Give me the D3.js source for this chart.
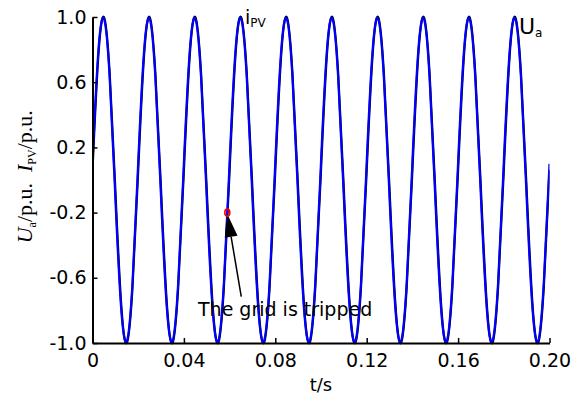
<!DOCTYPE html>
<html>
<head>
<meta charset="utf-8">
<script src="https://cdn.jsdelivr.net/npm/d3@7"></script>
<style>
  body { margin: 0; background: #fff; }
  svg { display: block; }
</style>
</head>
<body>
<div id="chart"></div>
<script>
  let w = 580,
      h = 403;

  // sample step of the recorded waveforms (s)
  let step = 0.0025;

  // U_a, grid voltage (p.u.), read every 2.5 ms
  let uaValues = [
    0.11, 0.78, 0.99, 0.63, -0.11, -0.78, -0.99, -0.63,
    0.11, 0.78, 0.99, 0.63, -0.11, -0.78, -0.99, -0.63,
    0.11, 0.78, 0.99, 0.63, -0.11, -0.78, -0.99, -0.63,
    0.11, 0.78, 0.99, 0.63, -0.11, -0.78, -0.99, -0.63,
    0.11, 0.78, 0.99, 0.63, -0.11, -0.78, -0.99, -0.63,
    0.11, 0.78, 0.99, 0.63, -0.11, -0.78, -0.99, -0.63,
    0.11, 0.78, 0.99, 0.63, -0.11, -0.78, -0.99, -0.63,
    0.11, 0.78, 0.99, 0.63, -0.11, -0.78, -0.99, -0.63,
    0.11, 0.78, 0.99, 0.63, -0.11, -0.78, -0.99, -0.63,
    0.11, 0.78, 0.99, 0.63, -0.11, -0.78, -0.99, -0.63,
    0.10
  ];

  // i_PV, inverter current (p.u.), read every 2.5 ms
  let ipvValues = [
    0.06, 0.75, 1.00, 0.66, -0.06, -0.75, -1.00, -0.66,
    0.06, 0.75, 1.00, 0.66, -0.06, -0.75, -1.00, -0.66,
    0.06, 0.75, 1.00, 0.66, -0.06, -0.75, -1.00, -0.66,
    0.06, 0.75, 1.00, 0.66, -0.06, -0.75, -1.00, -0.66,
    0.06, 0.75, 1.00, 0.66, -0.06, -0.75, -1.00, -0.66,
    0.06, 0.75, 1.00, 0.66, -0.06, -0.75, -1.00, -0.66,
    0.06, 0.75, 1.00, 0.66, -0.06, -0.75, -1.00, -0.66,
    0.06, 0.75, 1.00, 0.66, -0.06, -0.75, -1.00, -0.66,
    0.06, 0.75, 1.00, 0.66, -0.06, -0.75, -1.00, -0.66,
    0.06, 0.75, 1.00, 0.66, -0.06, -0.75, -1.00, -0.66,
    0.06
  ];

  let xTicks = [0, 0.04, 0.08, 0.12, 0.16, 0.20];
  let xTickLabels = ["0", "0.04", "0.08", "0.12", "0.16", "0.20"];
  let yTicks = [1.0, 0.6, 0.2, -0.2, -0.6, -1.0];
  let yTickLabels = ["1.0", "0.6", "0.2", "-0.2", "-0.6", "-1.0"];

  // grid trip instant
  let tripTime = 0.0590,
      tripValue = -0.2;

  let sansFont = "'DejaVu Sans', Verdana, sans-serif";
  let serifFont = "'Liberation Serif', 'Times New Roman', serif";

  let x = d3.scaleLinear().domain([0, 0.2]).range([92.5, 549.5]);
  let y = d3.scaleLinear().domain([-1, 1]).range([343, 17]);

  let svg = d3.select("#chart")
              .append("svg")
              .attr("width", w)
              .attr("height", h);

  svg.append("defs")
     .append("clipPath")
     .attr("id", "plot-clip")
     .append("rect")
     .attr("x", x(0))
     .attr("y", y(1) - 2)
     .attr("width", x(0.2) - x(0))
     .attr("height", y(-1) - y(1) + 4);

  let line = d3.line()
               .x((d, i) => x(i * step))
               .y(d => y(d))
               .curve(d3.curveNatural);

  let plot = svg.append("g").attr("clip-path", "url(#plot-clip)");

  // current first, voltage drawn on top of it
  plot.append("path")
      .attr("d", line(ipvValues))
      .attr("fill", "none")
      .attr("stroke", "#000")
      .attr("stroke-width", 2.2);

  plot.append("path")
      .attr("d", line(uaValues))
      .attr("fill", "none")
      .attr("stroke", "#0000ff")
      .attr("stroke-width", 2.2);

  // axes
  let xAxis = d3.axisBottom(x)
                .tickValues(xTicks)
                .tickFormat((d, i) => xTickLabels[i])
                .tickSizeInner(-5)
                .tickSizeOuter(0)
                .tickPadding(11);

  let yAxis = d3.axisLeft(y)
                .tickValues(yTicks)
                .tickFormat((d, i) => yTickLabels[i])
                .tickSizeInner(-5)
                .tickSizeOuter(0)
                .tickPadding(6);

  let gx = svg.append("g")
              .attr("transform", `translate(0, ${y(-1)})`)
              .call(xAxis);

  let gy = svg.append("g")
              .attr("transform", `translate(${x(0)}, 0)`)
              .call(yAxis);

  [gx, gy].forEach(g => {
    g.attr("font-family", sansFont).attr("font-size", 19);
    g.select(".domain").attr("stroke", "#000").attr("stroke-width", 2);
    g.selectAll(".tick line").attr("stroke", "#000").attr("stroke-width", 1.5);
    g.selectAll(".tick text").attr("fill", "#000");
  });

  gx.selectAll(".tick text").attr("dy", "0.71em");

  // x title
  svg.append("text")
     .attr("x", x(0.1))
     .attr("y", 391)
     .attr("text-anchor", "middle")
     .attr("font-family", sansFont)
     .attr("font-size", 18)
     .text("t/s");

  // y title, rotated
  let yTitle = svg.append("text")
                  .attr("transform", `translate(32, ${y(0.02)}) rotate(-90)`)
                  .attr("text-anchor", "middle")
                  .attr("font-family", serifFont)
                  .attr("font-size", 22);

  yTitle.append("tspan").attr("font-style", "italic").text("U");
  yTitle.append("tspan").attr("font-size", 12).attr("dy", 4).text("a");
  yTitle.append("tspan").attr("dy", -4).text("/p.u.\u00a0\u00a0");
  yTitle.append("tspan").attr("font-style", "italic").text("I");
  yTitle.append("tspan").attr("font-size", 12).attr("dy", 4).text("PV");
  yTitle.append("tspan").attr("dy", -4).text("/p.u.");

  // series labels
  let ipvLabel = svg.append("text")
                    .attr("x", 245)
                    .attr("y", 24)
                    .attr("font-family", sansFont)
                    .attr("font-size", 19);
  ipvLabel.append("tspan").text("i");
  ipvLabel.append("tspan").attr("font-size", 12).attr("dy", 3).text("PV");

  let uaLabel = svg.append("text")
                   .attr("x", 519)
                   .attr("y", 34)
                   .attr("font-family", sansFont)
                   .attr("font-size", 22);
  uaLabel.append("tspan").text("U");
  uaLabel.append("tspan").attr("font-size", 12).attr("dy", 3).text("a");

  // trip annotation: arrow from text to the point
  let tip = [x(tripTime), y(tripValue) + 1.5];
  let tail = [x(0.0651), y(-0.716)];
  let dx = tip[0] - tail[0],
      dy = tip[1] - tail[1],
      len = Math.sqrt(dx * dx + dy * dy);
  let ux = dx / len,
      uy = dy / len;
  let headLen = 23,
      headHalf = 6.5;
  let base = [tip[0] - ux * headLen, tip[1] - uy * headLen];

  svg.append("line")
     .attr("x1", tail[0])
     .attr("y1", tail[1])
     .attr("x2", base[0])
     .attr("y2", base[1])
     .attr("stroke", "#000")
     .attr("stroke-width", 1.5);

  svg.append("path")
     .attr("d", `M${tip[0]},${tip[1]}L${base[0] - uy * headHalf},${base[1] + ux * headHalf}L${base[0] + uy * headHalf},${base[1] - ux * headHalf}Z`)
     .attr("fill", "#000");

  svg.append("ellipse")
     .attr("cx", x(tripTime))
     .attr("cy", y(tripValue))
     .attr("rx", 2.5)
     .attr("ry", 3.5)
     .attr("fill", "none")
     .attr("stroke", "#ff0000")
     .attr("stroke-width", 1.6);

  svg.append("text")
     .attr("x", x(0.0843))
     .attr("y", 316)
     .attr("text-anchor", "middle")
     .attr("font-family", sansFont)
     .attr("font-size", 19)
     .text("The grid is tripped");
</script>
</body>
</html>
